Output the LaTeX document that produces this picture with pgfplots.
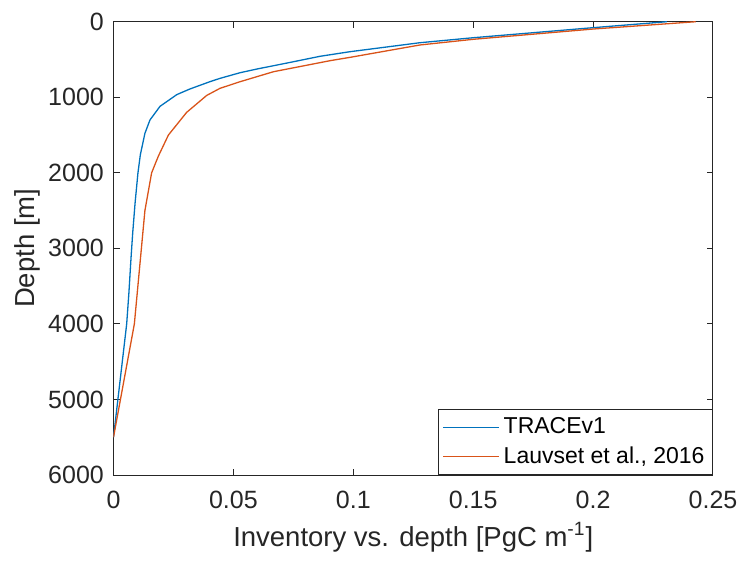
\documentclass[border=0pt]{standalone}
\usepackage{fontspec}
\setmainfont{Liberation Sans}
\usepackage{pgfplots}
\pgfplotsset{compat=1.18}

\definecolor{mblue}{rgb}{0,0.447,0.741}
\definecolor{mred}{rgb}{0.85,0.325,0.098}
\definecolor{axgray}{rgb}{0.15,0.15,0.15}

\begin{document}
\begin{tikzpicture}
\begin{axis}[
    scale only axis,
    width=299.75pt,
    height=226.65pt,
    xmin=0, xmax=0.25,
    ymin=0, ymax=6000,
    y dir=reverse,
    xtick={0,0.05,0.1,0.15,0.2,0.25},
    ytick={0,1000,2000,3000,4000,5000,6000},
    xticklabels={0,0.05,0.1,0.15,0.2,0.25},
    /pgf/number format/1000 sep={},
    /pgf/number format/assume math mode=true,
    tick align=inside,
    major tick length=3pt,
    axis line style={axgray, line width=0.5pt},
    tick style={axgray, line width=0.5pt},
    ticklabel style={font=\fontsize{12.5}{15}\selectfont, text=axgray},
    xticklabel style={yshift=-4.5pt},
    yticklabel style={xshift=-1.3pt},
    label style={font=\fontsize{13.75}{16}\selectfont, text=axgray},
    xlabel={Inventory vs. depth [PgC m\textsuperscript{-1}]},
    ylabel={Depth [m]},
    ylabel shift=-3pt,
    legend cell align=left,
    legend style={at={(1,0)}, anchor=south east, draw=axgray, line width=0.5pt,
        font=\fontsize{11.5}{14}\selectfont, inner sep=2pt, row sep=1pt},
    legend image code/.code={\draw[#1] (0pt,0pt) -- (28pt,0pt);},
]
% TRACEv1
\addplot[mblue, line width=0.65pt] coordinates {
(0.2308,0) (0.2,79) (0.15,212) (0.1278,278) (0.0986,397) (0.0861,458)
(0.0722,548) (0.0600,625) (0.0528,675) (0.0444,750) (0.0402,794) (0.0319,890)
(0.0264,965) (0.0194,1120) (0.0152,1301) (0.0131,1478) (0.0112,1760)
(0.0102,2000) (0.0090,2400) (0.0080,2800) (0.0073,3132) (0.0064,3600)
(0.0055,4000) (0,5500)
};
\addlegendentry{TRACEv1}
% Lauvset et al., 2016
\addplot[mred, line width=0.65pt] coordinates {
(0.2428,0) (0.2,97) (0.15,233) (0.1278,308) (0.0986,472) (0.0903,516)
(0.0667,662) (0.0528,794) (0.0444,882) (0.0389,975) (0.0305,1200)
(0.0229,1500) (0.0187,1780) (0.0159,2000) (0.0131,2500) (0.0087,4000)
(0,5500)
};
\addlegendentry{Lauvset et al., 2016}
\coordinate (bl) at (axis cs:0,6000);
\coordinate (tr) at (axis cs:0.25,0);
\end{axis}
\pgfresetboundingbox
\path[use as bounding box] ([shift={(-56.75pt,-44pt)}]bl) rectangle ([shift={(13.5pt,10.85pt)}]tr);
\end{tikzpicture}
\end{document}
